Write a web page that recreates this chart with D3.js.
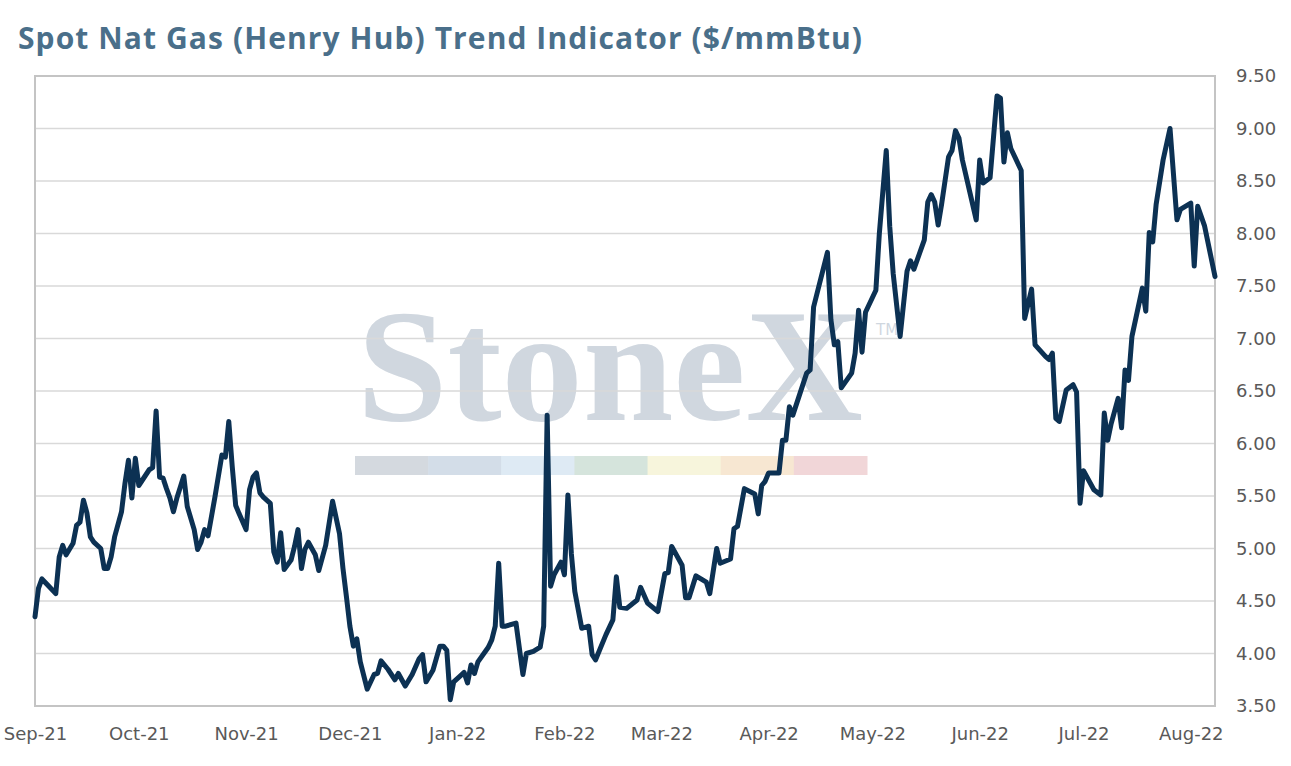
<!DOCTYPE html>
<html>
<head>
<meta charset="utf-8">
<script src="https://cdn.jsdelivr.net/npm/d3@7"></script>
<style>
  body { margin: 0; background: #fff; }
</style>
</head>
<body>
<div id="chart"></div>
<script>
const dates = [
  "2021-09-01","2021-09-02","2021-09-03","2021-09-05","2021-09-07","2021-09-08","2021-09-09","2021-09-10",
  "2021-09-12","2021-09-13","2021-09-14","2021-09-15","2021-09-16","2021-09-17","2021-09-18","2021-09-20",
  "2021-09-21","2021-09-22","2021-09-23","2021-09-24","2021-09-26","2021-09-27","2021-09-28","2021-09-29",
  "2021-09-30","2021-10-01","2021-10-02","2021-10-04","2021-10-05","2021-10-06","2021-10-07","2021-10-08",
  "2021-10-09","2021-10-10","2021-10-11","2021-10-12","2021-10-14","2021-10-15","2021-10-17","2021-10-18",
  "2021-10-19","2021-10-20","2021-10-21","2021-10-23","2021-10-25","2021-10-26","2021-10-27","2021-10-28",
  "2021-10-29","2021-10-30","2021-11-01","2021-11-02","2021-11-03","2021-11-04","2021-11-05","2021-11-06",
  "2021-11-08","2021-11-09","2021-11-10","2021-11-11","2021-11-12","2021-11-14","2021-11-15","2021-11-16",
  "2021-11-17","2021-11-18","2021-11-19","2021-11-21","2021-11-22","2021-11-24","2021-11-26","2021-11-28",
  "2021-11-29","2021-11-30","2021-12-01","2021-12-02","2021-12-03","2021-12-04","2021-12-06","2021-12-08",
  "2021-12-09","2021-12-10","2021-12-12","2021-12-14","2021-12-15","2021-12-17","2021-12-19","2021-12-21",
  "2021-12-22","2021-12-23","2021-12-25","2021-12-27","2021-12-28","2021-12-29","2021-12-30","2021-12-31",
  "2022-01-02","2022-01-03","2022-01-04","2022-01-05","2022-01-06","2022-01-07","2022-01-10","2022-01-11",
  "2022-01-12","2022-01-13","2022-01-14","2022-01-15","2022-01-18","2022-01-20","2022-01-21","2022-01-23",
  "2022-01-25","2022-01-26","2022-01-27","2022-01-28","2022-01-29","2022-01-31","2022-02-01","2022-02-02",
  "2022-02-03","2022-02-04","2022-02-06","2022-02-08","2022-02-09","2022-02-10","2022-02-13","2022-02-15",
  "2022-02-16","2022-02-17","2022-02-19","2022-02-22","2022-02-23","2022-02-25","2022-02-28","2022-03-02",
  "2022-03-03","2022-03-04","2022-03-07","2022-03-08","2022-03-09","2022-03-11","2022-03-14","2022-03-15",
  "2022-03-17","2022-03-18","2022-03-21","2022-03-22","2022-03-23","2022-03-25","2022-03-28","2022-03-29",
  "2022-03-30","2022-03-31","2022-04-01","2022-04-04","2022-04-05","2022-04-06","2022-04-07","2022-04-08",
  "2022-04-12","2022-04-13","2022-04-14","2022-04-18","2022-04-19","2022-04-20","2022-04-21","2022-04-22",
  "2022-04-25","2022-04-26","2022-04-27","2022-04-28","2022-04-29","2022-05-02","2022-05-03","2022-05-05",
  "2022-05-06","2022-05-07","2022-05-09","2022-05-11","2022-05-12","2022-05-13","2022-05-16","2022-05-17",
  "2022-05-18","2022-05-19","2022-05-20","2022-05-21","2022-05-23","2022-05-24","2022-05-25","2022-05-26",
  "2022-05-27","2022-05-31","2022-06-01","2022-06-02","2022-06-04","2022-06-06","2022-06-07","2022-06-08",
  "2022-06-09","2022-06-10","2022-06-13","2022-06-14","2022-06-16","2022-06-17","2022-06-20","2022-06-21",
  "2022-06-22","2022-06-23","2022-06-24","2022-06-26","2022-06-28","2022-06-29","2022-06-30","2022-07-01",
  "2022-07-04","2022-07-06","2022-07-07","2022-07-08","2022-07-09","2022-07-11","2022-07-12","2022-07-13",
  "2022-07-14","2022-07-15","2022-07-18","2022-07-19","2022-07-20","2022-07-21","2022-07-22","2022-07-24",
  "2022-07-26","2022-07-28","2022-07-29","2022-08-01","2022-08-02","2022-08-03","2022-08-05","2022-08-08"
];

const prices = [
  4.35,4.62,4.71,4.64,4.57,4.92,5.03,4.94,
  5.05,5.22,5.25,5.46,5.34,5.11,5.06,5.00,
  4.81,4.81,4.92,5.11,5.35,5.62,5.84,5.48,
  5.86,5.60,5.65,5.75,5.77,6.31,5.68,5.67,
  5.57,5.48,5.35,5.48,5.69,5.40,5.18,4.99,
  5.06,5.18,5.12,5.49,5.89,5.87,6.21,5.78,
  5.41,5.33,5.18,5.56,5.68,5.72,5.53,5.49,
  5.43,4.97,4.87,5.15,4.80,4.89,5.02,5.18,
  4.81,4.99,5.06,4.94,4.79,5.03,5.45,5.14,
  4.81,4.54,4.26,4.07,4.14,3.92,3.66,3.80,
  3.81,3.93,3.85,3.75,3.81,3.69,3.80,3.95,
  3.99,3.73,3.84,4.07,4.07,4.03,3.56,3.73,
  3.79,3.82,3.72,3.89,3.81,3.92,4.06,4.13,
  4.26,4.86,4.26,4.26,4.29,3.80,4.00,4.02,
  4.06,4.26,6.27,4.64,4.75,4.87,4.75,5.51,
  4.95,4.59,4.24,4.26,3.99,3.94,4.18,4.32,
  4.73,4.44,4.43,4.51,4.63,4.48,4.40,4.76,
  4.77,5.02,4.84,4.53,4.53,4.74,4.68,4.57,
  5.00,4.86,4.90,5.19,5.21,5.57,5.52,5.33,
  5.60,5.64,5.72,5.72,6.03,6.03,6.35,6.27,
  6.67,6.70,7.30,7.82,7.18,6.94,6.97,6.53,
  6.67,6.86,7.27,6.87,7.25,7.46,8.00,8.79,
  8.07,7.62,7.02,7.64,7.74,7.66,7.94,8.30,
  8.37,8.30,8.08,8.28,8.73,8.79,8.98,8.91,
  8.70,8.13,8.70,8.48,8.53,9.31,9.29,8.68,
  8.96,8.81,8.60,7.19,7.47,6.94,6.83,6.80,
  6.86,6.24,6.21,6.51,6.56,6.49,5.43,5.74,
  5.56,5.51,6.29,6.03,6.19,6.43,6.15,6.70,
  6.60,7.02,7.48,7.26,8.01,7.92,8.28,8.70,
  9.00,8.13,8.23,8.29,7.69,8.26,8.07,7.59
];

const yTicks = [3.5, 4.0, 4.5, 5.0, 5.5, 6.0, 6.5, 7.0, 7.5, 8.0, 8.5, 9.0, 9.5];
const monthTicks = [
  "2021-09-01","2021-10-01","2021-11-01","2021-12-01","2022-01-01","2022-02-01",
  "2022-03-01","2022-04-01","2022-05-01","2022-06-01","2022-07-01","2022-08-01"
];
const xDomain = ["2021-09-01", "2022-08-08"];

const titleText = "Spot Nat Gas (Henry Hub) Trend Indicator ($/mmBtu)";

function renderGasChart(containerSelector) {
  const width = 1291;
  const height = 766;
  const margin = { top: 76, right: 76, bottom: 60, left: 35 };

  const parse = d3.utcParse("%Y-%m-%d");
  const data = dates.map((d, i) => ({ date: parse(d), value: prices[i] }));

  d3.select(containerSelector).selectAll("*").remove();

  const svg = d3.select(containerSelector)
    .append("svg")
    .attr("width", width)
    .attr("height", height)
    .style("display", "block");

  const xScale = d3.scaleUtc()
    .domain(xDomain.map(parse))
    .range([margin.left, width - margin.right]);

  const yScale = d3.scaleLinear()
    .domain([3.5, 9.5])
    .range([height - margin.bottom, margin.top]);

  // title
  svg.append("text")
    .attr("x", 18)
    .attr("y", 49)
    .attr("textLength", 844)
    .attr("lengthAdjust", "spacing")
    .style("font-family", "'Open Sans', Lato, sans-serif")
    .style("font-weight", 700)
    .style("font-size", "30px")
    .attr("fill", "#4a6f8a")
    .text(titleText);

  // watermark sits under the grid
  const wm = svg.append("g").attr("class", "watermark");
  wm.append("text")
    .attr("x", 357)
    .attr("y", 420)
    .attr("textLength", 506)
    .attr("lengthAdjust", "spacingAndGlyphs")
    .style("font-family", "'Liberation Serif', 'DejaVu Serif', serif")
    .style("font-weight", 700)
    .style("font-size", "162px")
    .attr("fill", "#d0d7df")
    .text("StoneX");
  wm.append("text")
    .attr("x", 876)
    .attr("y", 335)
    .style("font-family", "'DejaVu Sans', sans-serif")
    .style("font-size", "15px")
    .attr("fill", "#d0d7df")
    .text("TM");

  const bandColors = ["#d4d9df", "#d3dde8", "#deeaf4", "#d5e4dc", "#f7f5dc", "#f7e7d2", "#f1d6d8"];
  const bandScale = d3.scaleBand()
    .domain(d3.range(bandColors.length))
    .range([355, 867]);
  wm.selectAll(".band")
    .data(bandColors)
    .enter()
    .append("rect")
    .attr("class", "band")
    .attr("x", (d, i) => bandScale(i))
    .attr("y", 456)
    .attr("width", bandScale.bandwidth() + 0.5)
    .attr("height", 19)
    .attr("fill", d => d);

  // horizontal grid
  svg.append("g")
    .selectAll("line")
    .data(yTicks)
    .enter()
    .append("line")
    .attr("x1", margin.left)
    .attr("x2", width - margin.right)
    .attr("y1", d => yScale(d))
    .attr("y2", d => yScale(d))
    .attr("stroke", "#d9d9d9")
    .attr("stroke-width", 1.5);

  // plot frame
  svg.append("rect")
    .attr("x", margin.left)
    .attr("y", margin.top)
    .attr("width", width - margin.right - margin.left)
    .attr("height", height - margin.bottom - margin.top)
    .attr("fill", "none")
    .attr("stroke", "#c4c4c4")
    .attr("stroke-width", 2);

  // y axis on the right
  const yAxis = svg.append("g")
    .attr("transform", `translate(${width - margin.right + 21}, 0)`)
    .call(d3.axisRight(yScale).tickValues(yTicks).tickSize(0).tickPadding(0).tickFormat(d3.format(".2f")));
  yAxis.select(".domain").remove();
  yAxis.selectAll("text")
    .style("font-family", "'DejaVu Sans', sans-serif")
    .style("font-size", "18px")
    .attr("fill", "#595959");

  // month labels
  const xAxis = svg.append("g")
    .attr("transform", `translate(0, ${height - margin.bottom})`)
    .call(d3.axisBottom(xScale).tickValues(monthTicks.map(parse)).tickSize(0).tickPadding(21).tickFormat(d3.utcFormat("%b-%y")));
  xAxis.select(".domain").remove();
  xAxis.selectAll("text")
    .style("font-family", "'DejaVu Sans', sans-serif")
    .style("font-size", "18px")
    .attr("fill", "#595959");

  const line = d3.line()
    .x(d => xScale(d.date))
    .y(d => yScale(d.value));

  svg.append("path")
    .datum(data)
    .attr("d", line)
    .attr("fill", "none")
    .attr("stroke", "#0c3153")
    .attr("stroke-width", 5)
    .attr("stroke-linejoin", "round")
    .attr("stroke-linecap", "round");
}

renderGasChart("#chart");
</script>
</body>
</html>
